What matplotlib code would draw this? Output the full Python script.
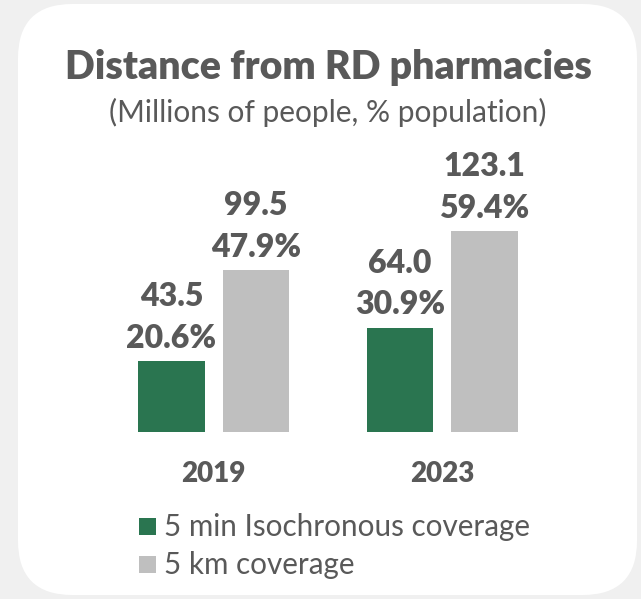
import matplotlib.pyplot as plt
from matplotlib.patches import FancyBboxPatch

years = ['2019', '2023']
iso_people = [43.5, 64.0]
iso_pct = ['20.6%', '30.9%']
km_people = [99.5, 123.1]
km_pct = ['47.9%', '59.4%']

GREEN = '#2a7550'
GRAY = '#bfbfbf'
TEXT = '#595959'
FONT = 'Lato'

W, H = 641, 599
fig = plt.figure(figsize=(W / 100, H / 100), dpi=100, facecolor='#f0f0f0')

# white rounded card behind everything
card = FancyBboxPatch((18 / W, 4 / H), 619 / W, 591 / H,
                      boxstyle='round,pad=0,rounding_size=0.085',
                      transform=fig.transFigure, facecolor='white',
                      edgecolor='none', mutation_aspect=W / H, zorder=-5)
fig.patches.append(card)

def px(x, y):
    return x / W, 1 - y / H

fig.text(*px(328, 67), 'Distance from RD pharmacies', ha='center', va='center',
         fontsize=28.3, fontweight='heavy', color=TEXT, family=FONT)
fig.text(*px(328, 112), '(Millions of people, % population)', ha='center',
         va='center', fontsize=21.5, color=TEXT, family=FONT)

# axes placed so that baseline sits at y=432 px
ax = fig.add_axes([76.65 / W, (H - 432) / H, 502.7 / W, 244.5 / H])
ax.set_xlim(-0.6, 1.6)
ax.set_ylim(0, 150)
ax.axis('off')

off, bw = 0.185, 0.293
for i in range(len(years)):
    ax.bar(i - off, iso_people[i], bw, color=GREEN)
    ax.bar(i + off, km_people[i], bw, color=GRAY)
    for x, v, p in [(i - off, iso_people[i], iso_pct[i]),
                    (i + off, km_people[i], km_pct[i])]:
        ax.annotate(p, (x, v), xytext=(0, 9.5), textcoords='offset points',
                    ha='center', va='baseline', fontsize=23,
                    fontweight='heavy', color=TEXT, family=FONT)
        ax.annotate(f'{v:.1f}', (x, v), xytext=(0, 39.5),
                    textcoords='offset points', ha='center', va='baseline',
                    fontsize=23, fontweight='heavy', color=TEXT, family=FONT)
    ax.annotate(years[i], (i, 0), xytext=(0, -30), textcoords='offset points',
                ha='center', va='center', fontsize=20, fontweight='heavy',
                color=TEXT, family=FONT)

# legend drawn by hand, left aligned below the chart
for y, col, lab in [(527, GREEN, '5 min Isochronous coverage'),
                    (565, GRAY, '5 km coverage')]:
    fig.patches.append(plt.Rectangle(px(139, y + 8), 17 / W, 17 / H,
                                     transform=fig.transFigure,
                                     facecolor=col, edgecolor='none'))
    fig.text(*px(164, y), lab, ha='left', va='center', fontsize=21.3,
             color=TEXT, family=FONT)

fig.savefig('out.png', dpi=100, facecolor=fig.get_facecolor())
